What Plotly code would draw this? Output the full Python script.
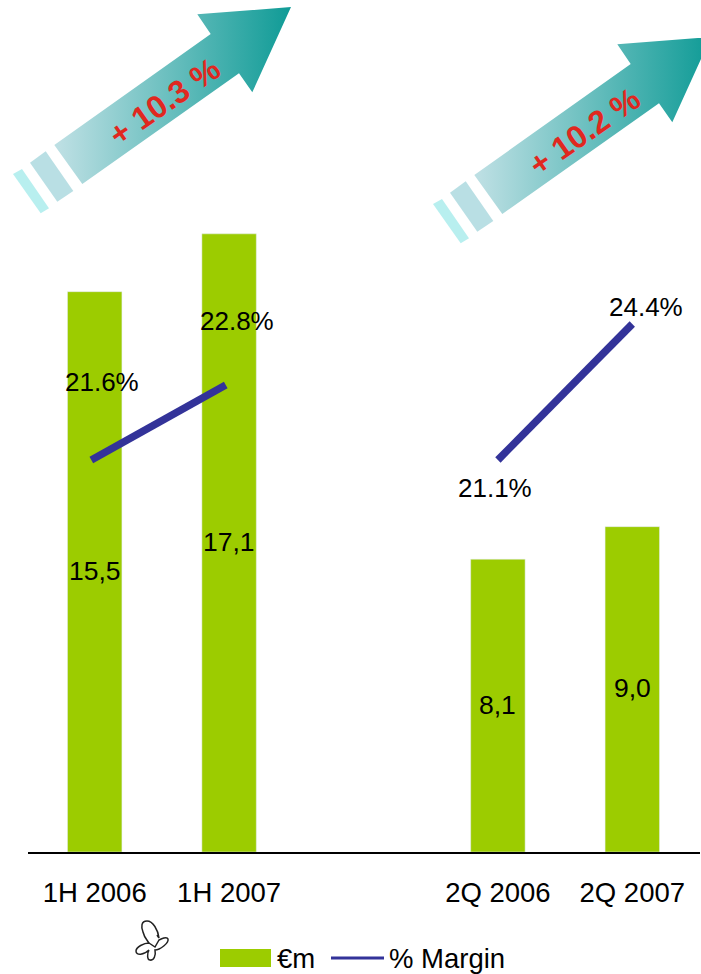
import plotly.graph_objects as go

# Chart data
categories = ["1H 2006", "1H 2007", " ", "2Q 2006", "2Q 2007"]
revenue = [15.5, 17.1, None, 8.1, 9.0]
revenue_labels = ["15,5", "17,1", "", "8,1", "9,0"]
margin_h1 = [21.6, 22.8]
margin_q2 = [21.1, 24.4]
growth_labels = ["+ 10.3 %", "+ 10.2 %"]

W, H = 701, 974
BASE = 852
GREEN = "#9ccc00"
NAVY = "#333399"
FONT = "Liberation Sans, Arial, sans-serif"

fig = go.Figure()

# Separate axes in page pixels for the decorative arrows
over = dict(xaxis="x4", yaxis="y4", hoverinfo="skip", showlegend=False)

def poly(pts, dx, dy, colors, start, stop):
    xs = [p[0] + dx for p in pts] + [pts[0][0] + dx]
    ys = [p[1] + dy for p in pts] + [pts[0][1] + dy]
    return go.Scatter(
        x=xs, y=ys, mode="none", fill="toself",
        fillgradient=dict(type="horizontal", start=start + dx, stop=stop + dx,
                          colorscale=[[0, colors[0]], [1, colors[1]]]),
        **over)

arrow_body = [(291, 7), (197.3, 14.3), (210.7, 34), (54.3, 145), (82.3, 184), (239, 73.3), (252.3, 92.3)]
arrow_mid = [(45.7, 151.3), (73.3, 191), (57.3, 201.7), (30, 162.7)]
arrow_end = [(22, 169), (49, 208.3), (40.7, 213.3), (13, 174)]

for dx, dy in [(0, 0), (420, 30)]:
    fig.add_trace(poly(arrow_body, dx, dy, ("#bcdfe3", "#0f9b96"), 60, 291))
    fig.add_trace(poly(arrow_mid, dx, dy, ("#b9dfe4", "#b9dfe4"), 30, 73))
    fig.add_trace(poly(arrow_end, dx, dy, ("#b8efef", "#b8efef"), 13, 49))

# Revenue bars
fig.add_trace(go.Bar(x=categories, y=revenue, marker_color=GREEN, width=0.405,
                     showlegend=False, hoverinfo="skip"))

# Margin lines, each period on its own scale
line = dict(color=NAVY, width=7.5)
fig.add_trace(go.Scatter(x=categories[:2], y=margin_h1, xaxis="x2", yaxis="y2", mode="lines",
                         line=line, showlegend=False, hoverinfo="skip"))
fig.add_trace(go.Scatter(x=categories[3:], y=margin_q2, yaxis="y3", mode="lines",
                         line=line, showlegend=False, hoverinfo="skip"))

annotations = []

# Bar values, centred in each column
for cat, val, label in zip(categories, revenue, revenue_labels):
    if val is not None:
        annotations.append(dict(x=cat, y=val / 2, xref="x", yref="y", text=label, showarrow=False,
                                yanchor="middle", yshift=1,
                                font=dict(family=FONT, size=26.5, color="black")))

def pct(cat, val, yref, xshift, yshift):
    annotations.append(dict(x=cat, y=val, xref="x", yref=yref, text=f"{val}%",
                            showarrow=False, xshift=xshift, yshift=yshift, yanchor="middle",
                            font=dict(family=FONT, size=26, color="black")))

pct(categories[0], margin_h1[0], "y2", 7, 78)
pct(categories[1], margin_h1[1], "y2", 8, 64)
pct(categories[3], margin_q2[0], "y3", -3, -28)
pct(categories[4], margin_q2[1], "y3", 14, 17)

# Growth labels on the arrows
for (cx, cy), label in zip([(164, 102), (584, 132)], growth_labels):
    annotations.append(dict(x=cx / W, y=1 - cy / H, xref="paper", yref="paper",
                            xanchor="center", yanchor="middle",
                            text=f"<b>{label}</b>", showarrow=False, textangle=-35,
                            font=dict(family=FONT, size=32, color="#e0281f")))

# Legend text
for lx, label in [(277, "€m"), (389, "% Margin")]:
    annotations.append(dict(x=lx / W, y=1 - 958 / H, xref="paper", yref="paper",
                            xanchor="left", yanchor="middle", xshift=-2, text=label,
                            showarrow=False, font=dict(family=FONT, size=27.5, color="black")))

def px(x0, y0, x1, y1, **kw):
    return dict(xref="paper", yref="paper", x0=x0 / W, x1=x1 / W,
                y0=1 - y0 / H, y1=1 - y1 / H, **kw)

shapes = [
    px(220, 949, 271, 967, type="rect", fillcolor=GREEN, line_width=0),
    px(331, 958, 384, 958, type="line", line=dict(color=NAVY, width=3)),
]

# Small butterfly outline under the first group
shapes.append(dict(
    type="path", xref="x4", yref="y4",
    path=("M159,938 C158,930 153,921 147,921 C141,921 141,927 143,932 C144,937 147,940 149,943 "
          "C144,943 136,947 136,951 C136,956 144,955 149,950 C147,953 147,960 150,960 "
          "C154,961 156,955 155,950 C160,950 169,943 168,939 C167,936 161,939 159,940 "
          "L155,947 L149,943 M159,938 L157,935"),
    line=dict(color="#222222", width=1.5), fillcolor="rgba(0,0,0,0)"))

y_top = BASE / 36.15
h1_per_px = (22.8 - 21.6) / (460 - 385)
q2_per_px = (24.4 - 21.1) / (460 - 324)

fig.update_layout(
    width=W, height=H, margin=dict(l=0, r=0, t=0, b=0),
    paper_bgcolor="white", plot_bgcolor="rgba(0,0,0,0)",
    showlegend=False, barmode="overlay",
    annotations=annotations, shapes=shapes,
    xaxis=dict(domain=[27.5 / W, 699.5 / W], type="category", categoryorder="array",
               categoryarray=categories, range=[-0.5, 4.5], showgrid=False, zeroline=False,
               showline=True, linecolor="black", linewidth=1.5, ticks="",
               tickfont=dict(family=FONT, size=27.5, color="black"), ticklabelstandoff=15),
    xaxis2=dict(overlaying="x", type="category", categoryorder="array", categoryarray=categories,
                range=[-0.475, 4.525], visible=False),
    yaxis=dict(domain=[(H - BASE) / H, 1], range=[0, y_top], visible=False),
    yaxis2=dict(overlaying="y", anchor="x2",
                range=[21.6 - (BASE - 460) * h1_per_px, 21.6 + 460 * h1_per_px], visible=False),
    yaxis3=dict(overlaying="y", range=[21.1 - (BASE - 460) * q2_per_px, 21.1 + 460 * q2_per_px], visible=False),
    xaxis4=dict(domain=[0, 1], range=[0, W], visible=False, anchor="y4"),
    yaxis4=dict(domain=[0, 1], range=[H, 0], visible=False, anchor="x4"),
)

fig.write_html("out.html")
